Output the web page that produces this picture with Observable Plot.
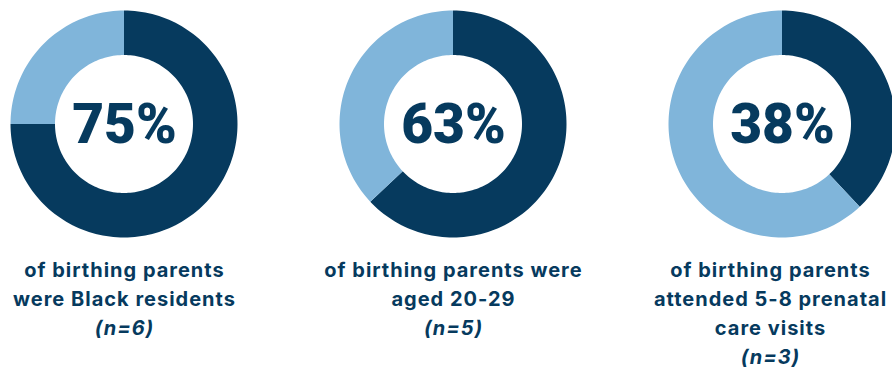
<!DOCTYPE html>
<html><head><meta charset="utf-8">
<script src="https://cdn.jsdelivr.net/npm/d3@7"></script>
<script src="https://cdn.jsdelivr.net/npm/@observablehq/plot@0.6"></script>
<style>html,body{margin:0;padding:0;background:#fff}
svg g[font-weight="700"] text{letter-spacing:1px}
</style>
</head><body><div id="chart"></div>
<script>
// ---- data ----
const categories = ["Black residents", "Aged 20-29", "5-8 prenatal care visits"];
const percents = [75, 63, 38];
const counts = [6, 5, 3];
const labelLines = [
  ["of birthing parents", "were Black residents"],
  ["of birthing parents were", "aged 20-29"],
  ["of birthing parents", "attended 5-8 prenatal", "care visits"]
];
const parts = ["share", "rest"];

// ---- layout / style ----
const W = 892, H = 368;
const cy = 124, R = 113.5, r = 69;
const centers = [124, 453, 782];
const labelX = [124, 453, 770];
const line1Y = 276, lh = 29, labelSize = 20;
const dark = "#063a5e", light = "#80b5da";
const font = "Inter, 'Open Sans', sans-serif";
const numFont = "Roboto, Inter, sans-serif";

// ring segments derived from the percentages
const ring = [];
percents.forEach((p, i) => {
  const segs = [["share", 0, p], ["rest", p, 100]];
  for (const [part, a, b] of segs) {
    const a0 = a / 100 * 2 * Math.PI, a1 = b / 100 * 2 * Math.PI;
    const n = Math.max(2, Math.ceil((b - a) * 2));
    for (let k = 0; k <= n; k++) {
      const t = a0 + (a1 - a0) * k / n;
      ring.push({
        id: categories[i] + "|" + part, part,
        x1: centers[i] + R * Math.sin(t), y1: cy - R * Math.cos(t),
        x2: centers[i] + r * Math.sin(t), y2: cy - r * Math.cos(t)
      });
    }
  }
});

const rows = [];
labelLines.forEach((lines, i) => {
  lines.forEach((t, j) => rows.push({i, j, text: t, italic: false}));
  rows.push({i, j: lines.length, text: `(n=${counts[i]})`, italic: true});
});

const chart = Plot.plot({
  width: W, height: H,
  margin: 0,
  x: {domain: [0, W], range: [0, W], axis: null},
  y: {domain: [0, H], range: [0, H], axis: null},
  color: {domain: parts, range: [dark, light]},
  marks: [
    Plot.area(ring, {x1: "x1", y1: "y1", x2: "x2", y2: "y2", z: "id", fill: "part"}),
    Plot.text(percents, {
      x: (d, i) => centers[i], y: cy + 1, text: d => d + "%",
      fontSize: 55, fontWeight: 900, fill: dark, fontFamily: numFont, lineAnchor: "middle"
    }),
    Plot.text(rows.filter(d => !d.italic), {
      x: d => labelX[d.i], y: d => line1Y + d.j * lh - 0.32 * labelSize, text: "text",
      fontSize: labelSize, fontWeight: 700, fill: dark, fontFamily: font, lineAnchor: "middle"
    }),
    Plot.text(rows.filter(d => d.italic), {
      x: d => labelX[d.i], y: d => line1Y + d.j * lh - 0.32 * labelSize, text: "text",
      fontSize: labelSize, fontWeight: 700, fontStyle: "italic", fill: dark, fontFamily: font, lineAnchor: "middle"
    })
  ]
});
document.getElementById("chart").appendChild(chart);
</script>
</body></html>
